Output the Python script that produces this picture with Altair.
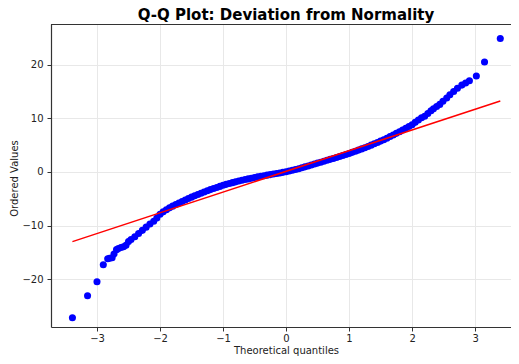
import altair as alt
import pandas as pd

# Theoretical quantiles (x) and ordered values (y)
theoretical = [
    -3.39, -3.15, -3.00, -2.90, -2.83, -2.80, -2.76, -2.73, -2.69, -2.66, -2.62, -2.58,
    -2.54, -2.50, -2.46, -2.40, -2.34, -2.28, -2.22, -2.16, -2.10, -2.05,
    -2.00, -1.95, -1.90, -1.85, -1.80, -1.75, -1.70, -1.65, -1.60, -1.55, -1.50,
    -1.45, -1.40, -1.35, -1.30, -1.25, -1.20, -1.15, -1.10, -1.05, -1.00,
    -0.95, -0.90, -0.85, -0.80, -0.75, -0.70, -0.65, -0.60, -0.55, -0.50,
    -0.45, -0.40, -0.35, -0.30, -0.25, -0.20, -0.15, -0.10, -0.05, 0.00,
    0.05, 0.10, 0.15, 0.20, 0.25, 0.30, 0.35, 0.40, 0.45, 0.50,
    0.55, 0.60, 0.65, 0.70, 0.75, 0.80, 0.85, 0.90, 0.95, 1.00,
    1.05, 1.10, 1.15, 1.20, 1.25, 1.30, 1.35, 1.40, 1.45, 1.50,
    1.55, 1.60, 1.65, 1.70, 1.75, 1.80, 1.85, 1.90, 1.95, 2.00,
    2.05, 2.10, 2.15, 2.20, 2.25, 2.30, 2.34, 2.39, 2.44, 2.49, 2.55,
    2.60, 2.66, 2.72, 2.79, 2.85, 2.91, 3.02, 3.15, 3.40,
]
ordered = [
    -27.2, -23.1, -20.5, -17.3, -16.2, -16.1, -16.0, -15.3, -14.5, -14.3, -14.1, -13.95,
    -13.7, -13.0, -12.6, -12.1, -11.5, -10.9, -10.3, -9.7, -9.2, -8.6,
    -7.90, -7.45, -7.05, -6.70, -6.38, -6.08, -5.80, -5.52, -5.25, -4.97, -4.70,
    -4.45, -4.20, -3.97, -3.75, -3.52, -3.30, -3.10, -2.90, -2.70, -2.50,
    -2.32, -2.15, -2.00, -1.85, -1.70, -1.55, -1.42, -1.30, -1.17, -1.05,
    -0.92, -0.80, -0.70, -0.60, -0.50, -0.40, -0.30, -0.20, -0.08, 0.05,
    0.17, 0.30, 0.45, 0.60, 0.77, 0.95, 1.12, 1.30, 1.47, 1.65,
    1.82, 2.00, 2.17, 2.35, 2.52, 2.70, 2.87, 3.05, 3.25, 3.45,
    3.65, 3.85, 4.07, 4.30, 4.52, 4.75, 5.00, 5.25, 5.50, 5.75,
    6.02, 6.30, 6.60, 6.90, 7.20, 7.50, 7.82, 8.15, 8.47, 8.80,
    9.25, 9.70, 10.1, 10.4, 10.9, 11.4, 11.8, 12.2, 12.6, 13.2, 13.8,
    14.4, 15.0, 15.6, 16.2, 16.6, 17.0, 17.9, 20.5, 24.9,
]
# Least-squares fit line end points
fit_x = [-3.39, 3.40]
fit_y = [-13.0, 13.25]

x_ticks = [-3, -2, -1, 0, 1, 2, 3]
y_ticks = [-20, -10, 0, 10, 20]

pts = pd.DataFrame({"q": theoretical, "v": ordered})
fit = pd.DataFrame({"q": fit_x, "v": fit_y})

FONT = "DejaVu Sans"
W, H = 460, 303

xscale = alt.Scale(domain=[-3.73, 3.57], nice=False, zero=False)
yscale = alt.Scale(domain=[-28.93, 27.6], nice=False, zero=False)

xaxis = alt.Axis(
    values=x_ticks, title="Theoretical quantiles", format="d",
    labelBaseline="alphabetic", labelPadding=10.5,
    titleBaseline="alphabetic", titleY=26.5, titleX=W / 2 + 5, titleAnchor="start",
    titleAlign="center",
)
yaxis = alt.Axis(
    values=y_ticks, title="Ordered Values", format="d",
    labelPadding=4,
    titleBaseline="middle", titleX=-37, titleY=154, titleAlign="center",
    titleAnchor="start",
)

points = alt.Chart(pts).mark_circle(color="#0000ff", size=50, opacity=1).encode(
    x=alt.X("q:Q", scale=xscale, axis=xaxis),
    y=alt.Y("v:Q", scale=yscale, axis=yaxis),
)

line = alt.Chart(fit).mark_line(color="#ff0000", strokeWidth=1.5).encode(
    x=alt.X("q:Q", scale=xscale),
    y=alt.Y("v:Q", scale=yscale),
)

top_spine = alt.Chart(pts).mark_rule(color="#333333", strokeWidth=1.2).encode(
    x=alt.value(0), x2=alt.value(W), y=alt.value(0.5)
)

chart = (
    alt.layer(points, line, top_spine)
    .properties(
        width=W,
        height=H,
        autosize="none",
        padding={"left": 43, "top": 16, "right": 0, "bottom": 29},
        title=alt.TitleParams(
            "Q-Q Plot: Deviation from Normality",
            font=FONT,
            fontSize=15,
            fontWeight="bold",
            color="#000000",
            anchor="middle",
            offset=1,
            dx=5,
        ),
    )
    .configure_view(stroke=None)
    .configure_axis(
        domainColor="#333333",
        domainWidth=1.2,
        tickColor="#333333",
        tickSize=4,
        labelFont=FONT,
        labelFontSize=10,
        labelColor="#222222",
        titleFont=FONT,
        titleFontSize=10,
        titleFontWeight="normal",
        titleColor="#222222",
        gridColor="#e8e8e8",
        gridWidth=1,
    )
)

chart.save("out.html", embed_options={"renderer": "svg", "actions": False})
